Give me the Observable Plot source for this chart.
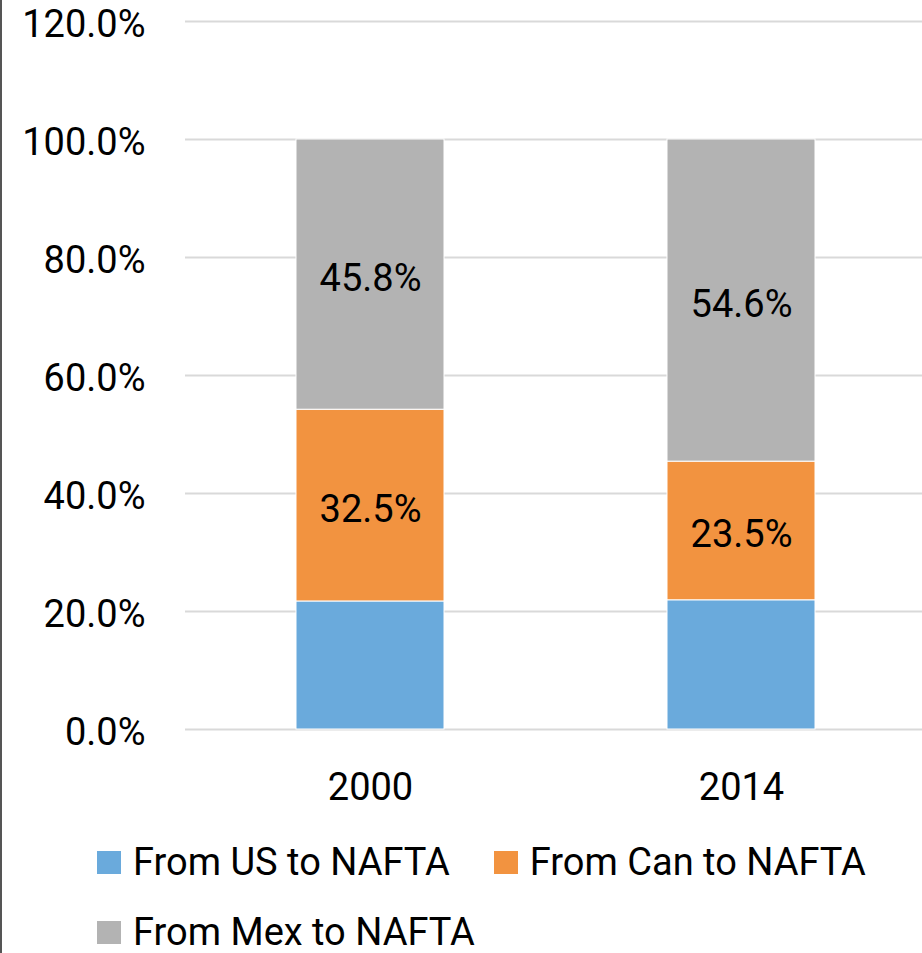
<!DOCTYPE html>
<html>
<head>
<meta charset="utf-8">
<script src="https://cdn.jsdelivr.net/npm/d3@7"></script>
<script src="https://cdn.jsdelivr.net/npm/@observablehq/plot@0.6"></script>
<style>
  html, body { margin: 0; padding: 0; background: white; }
  #wrap { position: relative; width: 922px; height: 953px; overflow: hidden; font-family: Roboto, sans-serif; }
  #edge { position: absolute; left: 0; top: 0; width: 2px; height: 953px; background: #555; }
  #chart { width: 927px; height: 830px; }
  #legend { display: flex; flex-wrap: wrap; column-gap: 44px; row-gap: 34px; padding: 14px 0 0 97px; box-sizing: border-box; width: 922px; }
  .item { display: flex; align-items: center; height: 36px; line-height: 36px; font-size: 38px; color: black; white-space: nowrap; }
  .sw { width: 24px; height: 23px; margin-right: 12px; }
</style>
</head>
<body>
<div id="wrap"><div id="edge"></div><div id="chart"></div><div id="legend"></div></div>
<script>
const years = ["2000", "2014"];
const seriesKeys = ["US", "Can", "Mex"];
const seriesLabels = ["From US to NAFTA", "From Can to NAFTA", "From Mex to NAFTA"];
const seriesColors = ["#6aaadc", "#f29340", "#b3b3b3"];
const usValues = [21.7, 21.9];
const canValues = [32.5, 23.5];
const mexValues = [45.8, 54.6];
const yTicks = [0, 20, 40, 60, 80, 100, 120];

const valuesBySeries = {US: usValues, Can: canValues, Mex: mexValues};
const table = [];
seriesKeys.forEach(s => years.forEach((y, i) => table.push({year: y, series: s, value: valuesBySeries[s][i]})));

const chart = Plot.plot({
  width: 927,
  height: 830,
  marginLeft: 185,
  marginRight: 0,
  marginTop: 21,
  marginBottom: 101,
  style: {fontFamily: "Roboto, sans-serif", fontSize: "38px", color: "black", background: "white", overflow: "visible"},
  x: {domain: years, paddingInner: 0.6, paddingOuter: 0.3, label: null},
  y: {domain: [0, 120], label: null},
  color: {domain: seriesKeys, range: seriesColors},
  marks: [
    Plot.gridY(yTicks, {stroke: "#d9d9d9", strokeOpacity: 1, strokeWidth: 2}),
    Plot.barY(table, {x: "year", y: "value", fill: "series", z: "series", stroke: "white", strokeWidth: 1, order: seriesKeys}),
    Plot.text(table, Plot.stackY({
      x: "year", y: "value", z: "series", order: seriesKeys,
      text: d => d.series === "US" ? null : d.value.toFixed(1) + "%",
      fill: "black", fontSize: 38, dy: 4
    })),
    Plot.axisY(yTicks, {tickSize: 0, tickPadding: 40, tickFormat: d => d.toFixed(1) + "%", fontSize: 38, dy: 3, label: null}),
    Plot.axisX({tickSize: 0, tickPadding: 44, fontSize: 38, label: null})
  ]
});
document.getElementById("chart").appendChild(chart);

const legend = document.getElementById("legend");
seriesKeys.forEach((s, i) => {
  const item = document.createElement("div");
  item.className = "item";
  const sw = document.createElement("div");
  sw.className = "sw";
  sw.style.background = seriesColors[i];
  const t = document.createElement("span");
  t.textContent = seriesLabels[i];
  item.appendChild(sw);
  item.appendChild(t);
  legend.appendChild(item);
});
</script>
</body>
</html>
